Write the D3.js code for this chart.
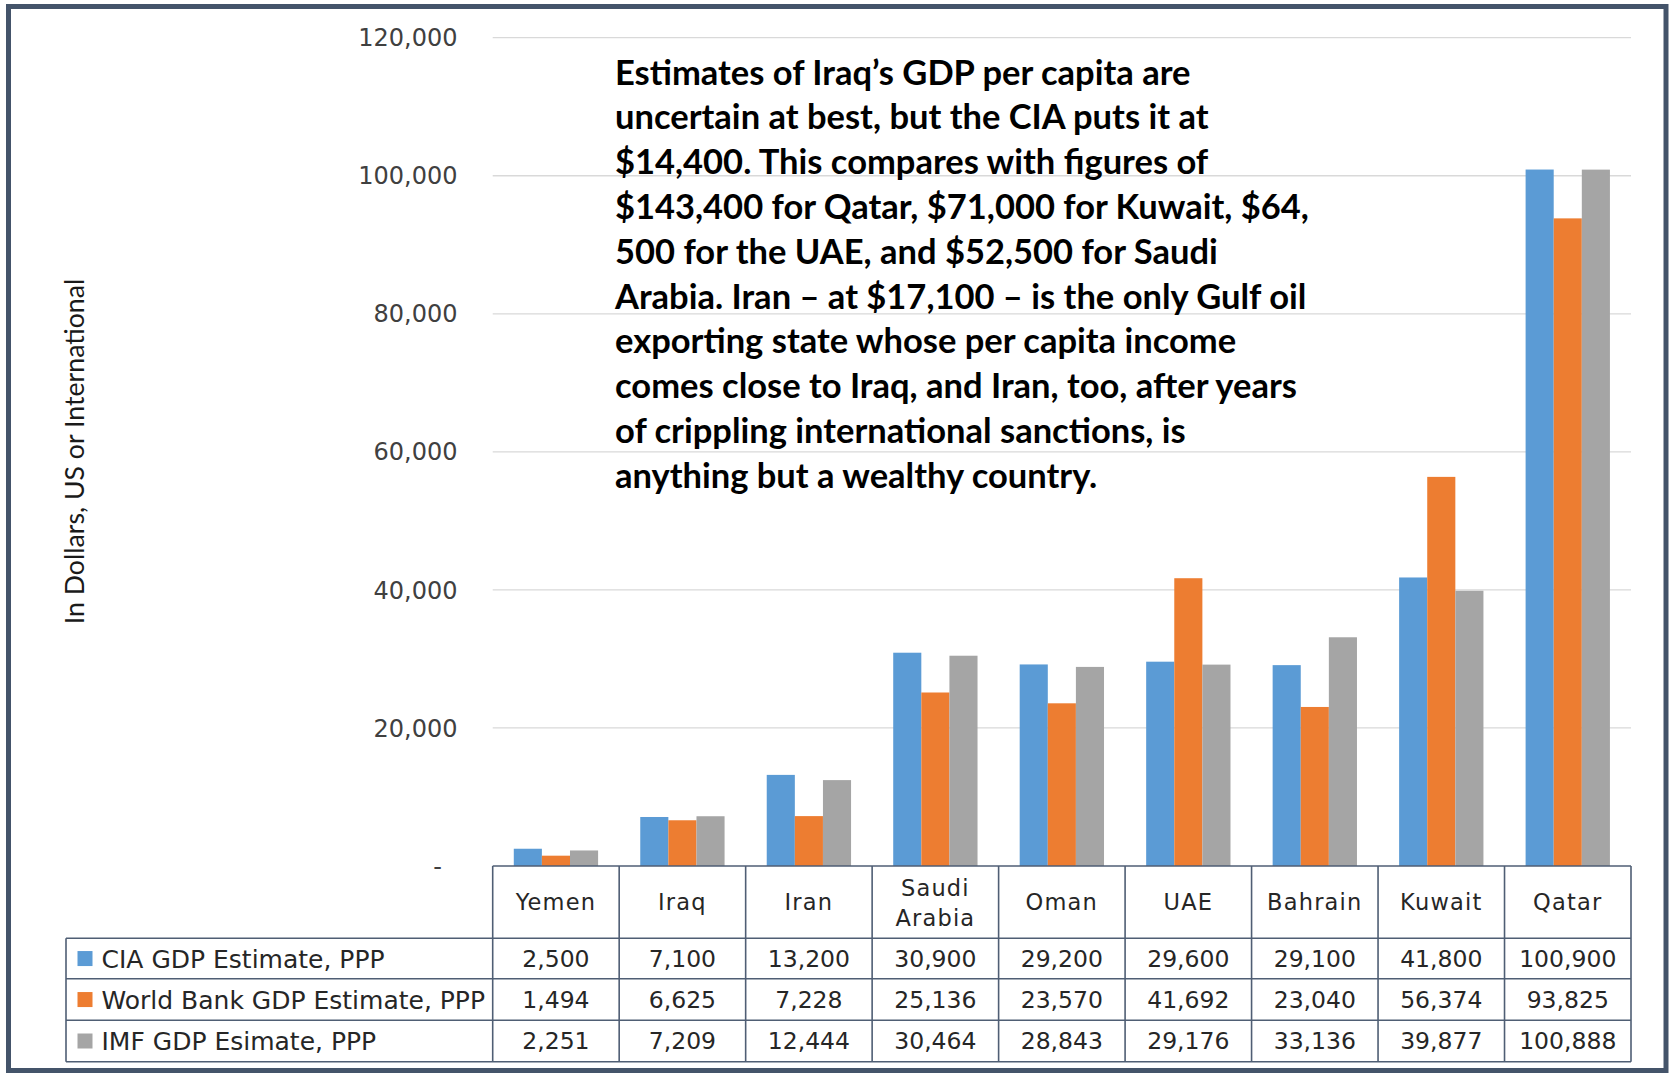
<!DOCTYPE html>
<html>
<head>
<meta charset="utf-8">
<script src="https://cdn.jsdelivr.net/npm/d3@7"></script>
<style>
  body { margin: 0; background: #fff; }
  svg { display: block; }
</style>
</head>
<body>
<div id="chart"></div>
<script>
// data
var countries = ["Yemen", "Iraq", "Iran", "Saudi Arabia", "Oman", "UAE", "Bahrain", "Kuwait", "Qatar"];
var seriesNames = ["CIA GDP Estimate, PPP", "World Bank GDP Estimate, PPP", "IMF GDP Esimate, PPP"];
var ciaValues = [2500, 7100, 13200, 30900, 29200, 29600, 29100, 41800, 100900];
var worldBankValues = [1494, 6625, 7228, 25136, 23570, 41692, 23040, 56374, 93825];
var imfValues = [2251, 7209, 12444, 30464, 28843, 29176, 33136, 39877, 100888];
var yTicks = [0, 20000, 40000, 60000, 80000, 100000, 120000];
var yLabel = "In Dollars, US or International";
var noteLines = [
    "Estimates of Iraq\u2019s GDP per capita are",
    "uncertain at best, but the CIA puts it at",
    "$14,400. This compares with figures of",
    "$143,400 for Qatar, $71,000 for Kuwait, $64,",
    "500 for the UAE, and $52,500 for Saudi",
    "Arabia. Iran \u2013 at $17,100 \u2013 is the only Gulf oil",
    "exporting state whose per capita income",
    "comes close to Iraq, and Iran, too, after years",
    "of crippling international sanctions, is",
    "anything but a wealthy country."
];

var colors = ["#5b9bd5", "#ed7d31", "#a5a5a5"];
var allValues = [ciaValues, worldBankValues, imfValues];

var width = 1669, height = 1075;
var plotLeft = 492.7, plotRight = 1631, plotTop = 37.7, plotBottom = 866;
var tableLeft = 66;
var rowTops = [938.3, 978.8, 1020.3, 1061.7];
var border = "#4f5e74";
var tableFont = "'DejaVu Sans', sans-serif";

var svg = d3.select("#chart")
    .append("svg")
    .attr("width", width)
    .attr("height", height);

svg.append("rect")
    .attr("width", width)
    .attr("height", height)
    .attr("fill", "#fff");

// scales
var x = d3.scaleBand()
    .domain(countries)
    .range([plotLeft, plotRight]);

var bw = x.bandwidth();
var xs = d3.scaleBand()
    .domain(d3.range(seriesNames.length))
    .range([bw / 6, bw * 5 / 6]);

var y = d3.scaleLinear()
    .domain([0, 120000])
    .range([plotBottom, plotTop]);

// gridlines
svg.append("g")
    .selectAll("line")
    .data(yTicks.filter(function(d) { return d > 0 }))
    .enter().append("line")
    .attr("x1", plotLeft)
    .attr("x2", plotRight)
    .attr("y1", function(d) { return y(d) })
    .attr("y2", function(d) { return y(d) })
    .style("stroke", "#d9d9d9")
    .style("stroke-width", 1.3);

// y axis labels (accounting format: zero shown as a dash)
svg.append("g")
    .selectAll("text")
    .data(yTicks)
    .enter().append("text")
    .attr("x", function(d) { return d === 0 ? 442 : 457.5 })
    .attr("y", function(d) { return y(d) })
    .attr("dy", "0.36em")
    .attr("text-anchor", "end")
    .style("font-family", tableFont)
    .style("font-size", "24px")
    .style("fill", "#404040")
    .text(function(d) { return d === 0 ? "-" : d3.format(",")(d) });

svg.append("text")
    .attr("transform", "translate(84," + 451.5 + ") rotate(-90)")
    .attr("text-anchor", "middle")
    .style("font-family", "Lato, sans-serif")
    .style("font-size", "26.7px")
    .style("fill", "#1a1a1a")
    .text(yLabel);

// bars
var groups = svg.append("g")
    .selectAll("g")
    .data(countries)
    .enter().append("g")
    .attr("transform", function(d) { return "translate(" + x(d) + ",0)" });

groups.selectAll("rect")
    .data(function(d, i) {
        return allValues.map(function(vals, s) { return { s: s, v: vals[i] } });
    })
    .enter().append("rect")
    .attr("x", function(d) { return xs(d.s) })
    .attr("width", xs.bandwidth())
    .attr("y", function(d) { return y(d.v) })
    .attr("height", function(d) { return y(0) - y(d.v) })
    .attr("fill", function(d) { return colors[d.s] });

// data table
var table = svg.append("g");

// horizontal lines
table.append("line")
    .attr("x1", plotLeft).attr("x2", plotRight)
    .attr("y1", plotBottom).attr("y2", plotBottom);
rowTops.forEach(function(ry) {
    table.append("line")
        .attr("x1", tableLeft).attr("x2", plotRight)
        .attr("y1", ry).attr("y2", ry);
});
// vertical lines
table.append("line")
    .attr("x1", tableLeft).attr("x2", tableLeft)
    .attr("y1", rowTops[0]).attr("y2", rowTops[3]);
countries.forEach(function(c) {
    table.append("line")
        .attr("x1", x(c)).attr("x2", x(c))
        .attr("y1", plotBottom).attr("y2", rowTops[3]);
});
table.append("line")
    .attr("x1", plotRight).attr("x2", plotRight)
    .attr("y1", plotBottom).attr("y2", rowTops[3]);
table.selectAll("line")
    .style("stroke", border)
    .style("stroke-width", 1.6);

// category header
var headers = table.selectAll(".cat")
    .data(countries)
    .enter().append("text")
    .attr("class", "cat")
    .attr("x", function(d) { return x(d) + bw / 2 })
    .attr("y", (plotBottom + rowTops[0]) / 2)
    .attr("text-anchor", "middle")
    .style("font-family", tableFont)
    .style("font-size", "22.5px")
    .style("letter-spacing", "1.2px")
    .style("fill", "#262626");

headers.each(function(d) {
    var words = d.split(" ");
    var t = d3.select(this);
    words.forEach(function(w, i) {
        t.append("tspan")
            .attr("x", x(d) + bw / 2)
            .attr("dy", i === 0 ? (0.36 - (words.length - 1) * 0.64) + "em" : "1.32em")
            .text(w);
    });
});

// value rows with legend keys
seriesNames.forEach(function(name, s) {
    var cy = (rowTops[s] + rowTops[s + 1]) / 2;
    table.append("rect")
        .attr("x", 77.5)
        .attr("y", cy - 7.5)
        .attr("width", 15)
        .attr("height", 15)
        .attr("fill", colors[s]);
    table.append("text")
        .attr("x", 101.5)
        .attr("y", cy)
        .attr("dy", "0.36em")
        .style("font-family", tableFont)
        .style("font-size", "25px")
        .style("fill", "#262626")
        .text(name);
    table.selectAll(".val" + s)
        .data(allValues[s])
        .enter().append("text")
        .attr("class", "val" + s)
        .attr("x", function(d, i) { return x(countries[i]) + bw / 2 })
        .attr("y", cy)
        .attr("dy", "0.36em")
        .attr("text-anchor", "middle")
        .style("font-family", tableFont)
        .style("font-size", "23.5px")
        .style("fill", "#262626")
        .text(function(d) { return d3.format(",")(d) });
});

// annotation
svg.append("g")
    .selectAll("text")
    .data(noteLines)
    .enter().append("text")
    .attr("x", 615)
    .attr("y", function(d, i) { return 84.5 + i * 44.8 })
    .style("font-family", "Lato, sans-serif")
    .style("font-weight", "bold")
    .style("font-size", "34.5px")
    .style("fill", "#000")
    .text(function(d) { return d });

// outer frame
svg.append("rect")
    .attr("x", 8.5)
    .attr("y", 6.5)
    .attr("width", 1657.5)
    .attr("height", 1064)
    .attr("fill", "none")
    .style("stroke", "#44546a")
    .style("stroke-width", 5);
</script>
</body>
</html>
